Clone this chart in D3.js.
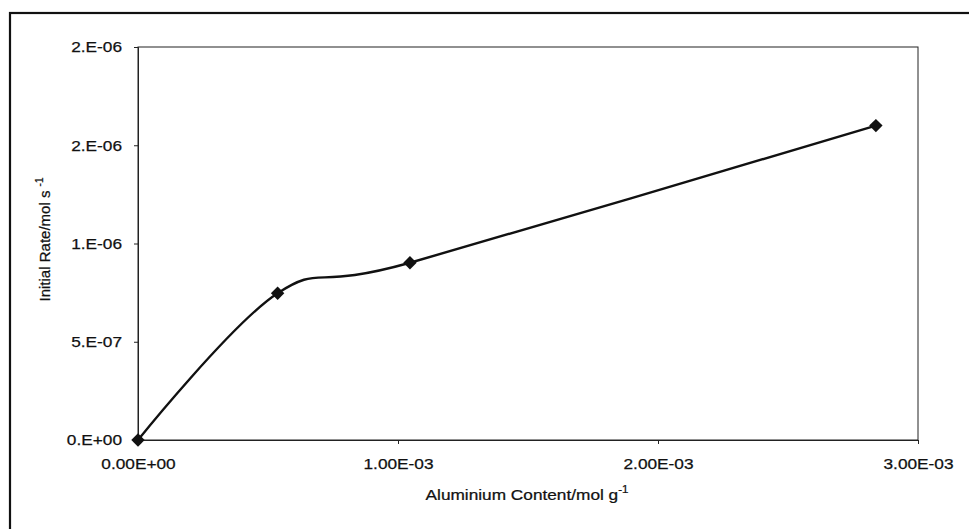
<!DOCTYPE html>
<html>
<head>
<meta charset="utf-8">
<script src="https://cdn.jsdelivr.net/npm/d3@7"></script>
<style>
  html, body { margin: 0; padding: 0; background: #fff; }
  text { font-family: "Liberation Sans", Arial, sans-serif; fill: #111; stroke: #111; stroke-width: 0.25px; }
</style>
</head>
<body>
<div id="chart"></div>
<script>
// Aluminium content (mol g^-1) vs initial rate (mol s^-1)
const aluminium = [0, 0.537e-3, 1.046e-3, 2.838e-3];
const initialRate = [0, 7.47e-7, 9.02e-7, 1.60e-6];
const xTicks = [0, 1e-3, 2e-3, 3e-3];
const xTickLabels = ['0.00E+00', '1.00E-03', '2.00E-03', '3.00E-03'];
const yTicks = [0, 5e-7, 1e-6, 1.5e-6, 2e-6];
const yTickLabels = ['0.E+00', '5.E-07', '1.E-06', '2.E-06', '2.E-06'];

const W = 969, H = 529;
const margin = { top: 47, right: 51, bottom: 89, left: 138 };
const width = W - margin.left - margin.right;
const height = H - margin.top - margin.bottom;
const stretch = 1.15; // the scanned text is a bit wide

const svg = d3.select('#chart')
  .append('svg')
  .attr('width', W)
  .attr('height', H);

// outer chart frame
svg.append('rect')
  .attr('x', 10)
  .attr('y', 13)
  .attr('width', W + 10)
  .attr('height', H + 10)
  .attr('fill', 'none')
  .attr('stroke', '#111')
  .attr('stroke-width', 2.2);

const g = svg.append('g')
  .attr('transform', `translate(${margin.left},${margin.top})`);

const x = d3.scaleLinear().domain([0, 3e-3]).range([0, width]);
const y = d3.scaleLinear().domain([0, 2e-6]).range([height, 0]);

// plot area border
g.append('rect')
  .attr('width', width)
  .attr('height', height)
  .attr('fill', 'none')
  .attr('stroke', '#222')
  .attr('stroke-width', 1);

// axes
const xAxis = g.append('g')
  .attr('transform', `translate(0,${height})`)
  .call(d3.axisBottom(x)
    .tickValues(xTicks)
    .tickSize(4)
    .tickPadding(14)
    .tickFormat((d, i) => xTickLabels[i]));

const yAxis = g.append('g')
  .call(d3.axisLeft(y)
    .tickValues(yTicks)
    .tickSize(4)
    .tickPadding(12)
    .tickFormat((d, i) => yTickLabels[i]));

[xAxis, yAxis].forEach(a => {
  a.select('.domain').attr('stroke', '#222');
  a.selectAll('.tick line').attr('stroke', '#222');
  a.selectAll('.tick text')
    .style('font-family', '"Liberation Sans", Arial, sans-serif')
    .style('font-size', '15px')
    .attr('fill', '#111');
});

// axis titles
const xTitle = g.append('text')
  .attr('x', 389)
  .attr('y', height + 60)
  .attr('text-anchor', 'middle')
  .style('font-size', '15px');
xTitle.append('tspan').text('Aluminium Content/mol g');
xTitle.append('tspan').attr('dy', -7).style('font-size', '10px').text('-1');

const yTitle = g.append('text')
  .attr('transform', `translate(${-88},${height / 2 - 4}) rotate(-90)`)
  .attr('text-anchor', 'middle')
  .style('font-size', '15px');
yTitle.append('tspan').text('Initial Rate/mol s ');
yTitle.append('tspan').attr('dy', -7).style('font-size', '10px').text('-1');

// widen horizontal texts to match the scan
g.selectAll('.tick text').each(function () {
  const len = this.getComputedTextLength();
  d3.select(this).attr('textLength', len * stretch).attr('lengthAdjust', 'spacingAndGlyphs');
});
xTitle.attr('transform', `translate(389,0) scale(${stretch},1) translate(-389,0)`);

// smoothed line
const pts = aluminium.map((a, i) => [a, initialRate[i]]);
const line = d3.line()
  .x(d => x(d[0]))
  .y(d => y(d[1]))
  .curve(d3.curveCardinal.tension(0));

g.append('path')
  .datum(pts)
  .attr('d', line)
  .attr('fill', 'none')
  .attr('stroke', '#111')
  .attr('stroke-width', 2.4);

// diamond markers
g.selectAll('.marker')
  .data(pts)
  .enter()
  .append('path')
  .attr('class', 'marker')
  .attr('transform', d => `translate(${x(d[0])},${y(d[1])}) rotate(45)`)
  .attr('d', d3.symbol().type(d3.symbolSquare).size(90))
  .attr('fill', '#111');
</script>
</body>
</html>
